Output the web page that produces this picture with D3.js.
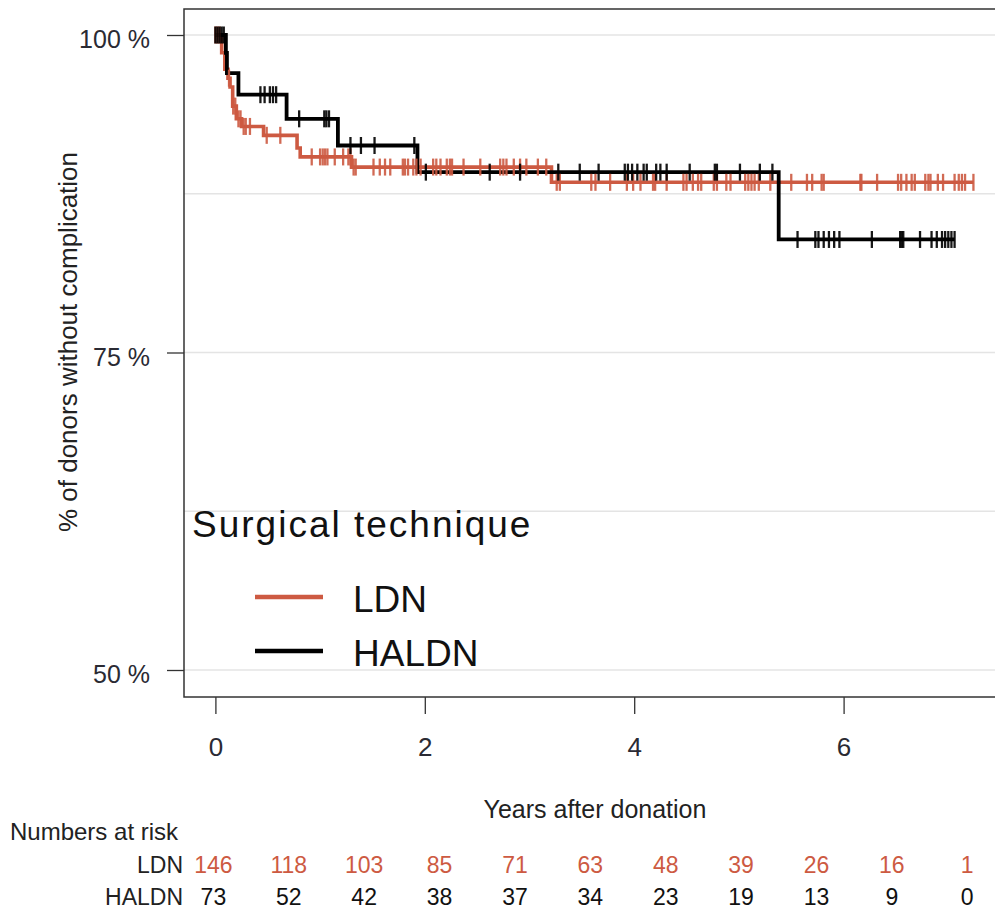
<!DOCTYPE html>
<html>
<head>
<meta charset="utf-8">
<script src="https://cdn.jsdelivr.net/npm/d3@7"></script>
<style>
  html, body { margin: 0; padding: 0; background: #fff; }
  svg { display: block; font-family: "Liberation Sans", Arial, sans-serif; }
</style>
</head>
<body>
<svg id="chart" width="995" height="914"></svg>
<script>
// ---------------- data ----------------
const groups = ["LDN", "HALDN"];
const groupColors = ["#CD5A42", "#000000"];

// Kaplan-Meier steps: [time (years), survival %]
const ldnSteps = [[0.06,98.6],[0.09,97.3],[0.12,96.6],[0.14,95.9],[0.165,94.4],[0.20,93.4],[0.25,92.8],[0.46,92.1],[0.78,91.1],[0.81,90.4],[1.30,89.6],[3.21,88.4]];
const ldnEnd = 7.24;
const haldnSteps = [[0.10,98.6],[0.11,97.0],[0.22,95.3],[0.68,93.4],[1.17,91.3],[1.93,89.2],[5.38,83.9]];
const haldnEnd = 7.06;

// censoring times (years)
const ldnCensor = [0.0,0.02,0.04,0.13,0.17,0.19,0.22,0.24,0.27,0.29,0.33,0.49,0.62,0.92,1.0,1.025,1.047,1.07,1.14,1.22,1.27,1.29,1.32,1.34,1.51,1.57,1.62,1.67,1.79,1.81,1.84,1.89,1.92,1.96,2.08,2.11,2.15,2.21,2.24,2.26,2.37,2.53,2.72,2.75,2.78,2.85,2.91,2.97,3.08,3.16,3.26,3.29,3.59,3.63,3.77,3.93,3.99,4.06,4.18,4.20,4.31,4.47,4.50,4.56,4.61,4.64,4.76,4.79,4.88,4.92,5.06,5.09,5.12,5.15,5.19,5.30,5.50,5.65,5.70,5.79,5.81,6.16,6.17,6.32,6.52,6.55,6.60,6.65,6.68,6.78,6.81,6.83,6.90,6.95,7.06,7.10,7.13,7.16,7.24];
const haldnCensor = [0.0,0.02,0.04,0.06,0.08,0.43,0.47,0.52,0.55,0.58,0.80,1.04,1.06,1.085,1.29,1.39,1.52,1.90,2.01,2.62,2.91,3.275,3.48,3.66,3.91,3.94,3.98,4.03,4.09,4.12,4.21,4.25,4.31,4.53,4.77,4.79,5.01,5.20,5.32,5.56,5.73,5.76,5.81,5.86,5.91,5.96,6.27,6.54,6.555,6.57,6.73,6.84,6.89,6.94,6.97,7.0,7.03,7.06];

// tick labels
const yTicks = [50, 75, 100];
const yGrid = [50, 62.5, 75, 87.5, 100];
const xTicks = [0, 2, 4, 6];

// numbers at risk
const riskTimes = [0, 0.72, 1.44, 2.16, 2.88, 3.6, 4.32, 5.04, 5.76, 6.48, 7.2];
const ldnRisk = [146, 118, 103, 85, 71, 63, 48, 39, 26, 16, 1];
const haldnRisk = [73, 52, 42, 38, 37, 34, 23, 19, 13, 9, 0];

// ---------------- layout ----------------
const svg = d3.select("#chart");
const panel = { left: 184, top: 9, right: 996, bottom: 697 };
const x = d3.scaleLinear().domain([0, 6]).range([215.4, 843.6]);
const y = d3.scaleLinear().domain([50, 100]).range([670, 35]);

// gridlines
svg.append("g").selectAll("line").data(yGrid).join("line")
  .attr("x1", panel.left).attr("x2", panel.right)
  .attr("y1", d => y(d)).attr("y2", d => y(d))
  .attr("stroke", "#E4E4E4").attr("stroke-width", 1.3);

// curves
function stepPath(steps, end) {
  const pts = [[0, 100]];
  let cur = 100;
  steps.forEach(([t, v]) => { pts.push([t, cur]); pts.push([t, v]); cur = v; });
  pts.push([end, cur]);
  return d3.line().x(d => x(d[0])).y(d => y(d[1]))(pts);
}
function valueAt(steps, t) {
  let v = 100;
  steps.forEach(([s, val]) => { if (s <= t) v = val; });
  return v;
}

const series = [
  { steps: ldnSteps, end: ldnEnd, censor: ldnCensor, color: groupColors[0], w: 3.6 },
  { steps: haldnSteps, end: haldnEnd, censor: haldnCensor, color: groupColors[1], w: 3.8 }
];

series.forEach(s => {
  svg.append("path").attr("d", stepPath(s.steps, s.end))
    .attr("fill", "none").attr("stroke", s.color).attr("stroke-width", s.w)
    .attr("stroke-linejoin", "miter");
});
series.forEach(s => {
  svg.append("g").selectAll("line").data(s.censor).join("line")
    .attr("x1", d => x(d)).attr("x2", d => x(d))
    .attr("y1", d => y(valueAt(s.steps, d)) - 8.5)
    .attr("y2", d => y(valueAt(s.steps, d)) + 8.5)
    .attr("stroke", s.color).attr("stroke-width", 2.3)
    .attr("opacity", 0.9);
});

// panel border
svg.append("rect")
  .attr("x", panel.left).attr("y", panel.top)
  .attr("width", panel.right - panel.left).attr("height", panel.bottom - panel.top)
  .attr("fill", "none").attr("stroke", "#333").attr("stroke-width", 1.5);

// axes
const yAxis = svg.append("g").attr("transform", `translate(${panel.left},0)`)
  .call(d3.axisLeft(y).tickValues(yTicks).tickFormat(d => d + " %").tickSize(17).tickPadding(17));
yAxis.select(".domain").remove();
yAxis.selectAll("line").attr("stroke", "#333").attr("stroke-width", 1.3);
yAxis.selectAll("text").attr("font-size", 25).attr("fill", "#2a2a33").attr("dy", "0.5em")
  .attr("font-family", "Liberation Sans, Arial, sans-serif");

const xAxis = svg.append("g").attr("transform", `translate(0,${panel.bottom})`)
  .call(d3.axisBottom(x).tickValues(xTicks).tickFormat(d3.format("d")).tickSize(17).tickPadding(24));
xAxis.select(".domain").remove();
xAxis.selectAll("line").attr("stroke", "#333").attr("stroke-width", 1.3);
xAxis.selectAll("text").attr("font-size", 26).attr("fill", "#2a2a33")
  .attr("font-family", "Liberation Sans, Arial, sans-serif");

// axis titles
svg.append("text").attr("x", 595).attr("y", 818).attr("text-anchor", "middle")
  .attr("font-size", 25).attr("fill", "#222").text("Years after donation");
svg.append("text").attr("transform", "translate(77,342) rotate(-90)")
  .attr("text-anchor", "middle").attr("font-size", 26).attr("fill", "#222")
  .text("% of donors without complication");

// legend
svg.append("text").attr("x", 192).attr("y", 537).attr("font-size", 37)
  .attr("letter-spacing", 2).attr("fill", "#111").text("Surgical technique");
const legY = [597, 651];
groups.forEach((g, i) => {
  svg.append("line").attr("x1", 255).attr("x2", 323).attr("y1", legY[i]).attr("y2", legY[i])
    .attr("stroke", groupColors[i]).attr("stroke-width", 4.5);
  svg.append("text").attr("x", 353).attr("y", legY[i] + 15).attr("font-size", 37)
    .attr("fill", "#111").text(g);
});

// risk table
svg.append("text").attr("x", 10).attr("y", 840).attr("font-size", 24)
  .attr("fill", "#222").text("Numbers at risk");
const riskRows = [
  { label: groups[0], vals: ldnRisk, color: groupColors[0], y: 873 },
  { label: groups[1], vals: haldnRisk, color: "#111", y: 905 }
];
riskRows.forEach(r => {
  svg.append("text").attr("x", 183).attr("y", r.y).attr("text-anchor", "end")
    .attr("font-size", 23).attr("fill", "#222").text(r.label);
  svg.append("g").selectAll("text").data(r.vals).join("text")
    .attr("x", (d, i) => x(riskTimes[i]) - 2).attr("y", r.y)
    .attr("text-anchor", "middle").attr("font-size", 23).attr("fill", r.color)
    .text(d => d);
});
</script>
</body>
</html>
